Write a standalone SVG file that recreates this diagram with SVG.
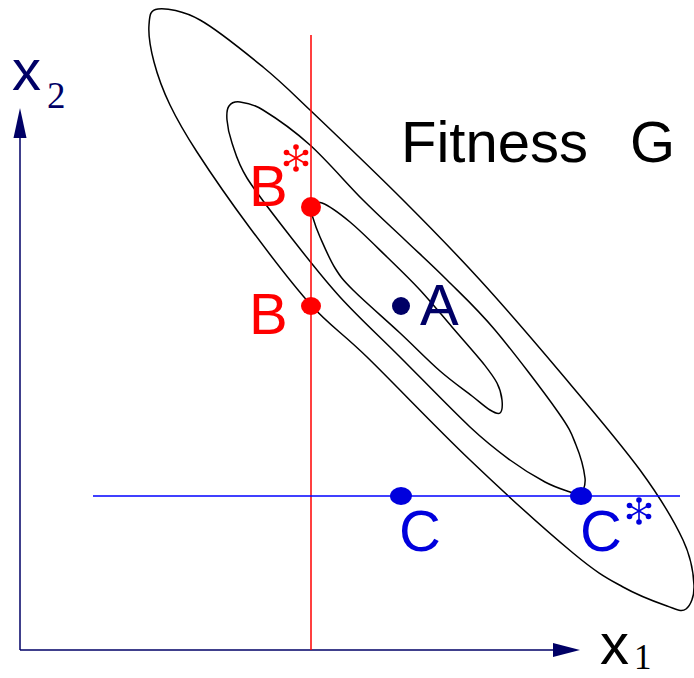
<svg xmlns="http://www.w3.org/2000/svg" xmlns:xlink="http://www.w3.org/1999/xlink" width="694" height="678" viewBox="0 0 694 678">
<style>
.contour{fill:none;stroke:#000;stroke-width:1.5}
.axis{stroke:#000066;stroke-width:1.5;fill:none}
.head{fill:#000066}
.lab{font-family:"Liberation Sans",Arial,sans-serif;font-size:58px}
.sub{font-family:"Liberation Serif","Times New Roman",serif}
.red{fill:#ff0000}
.blue{fill:#0000dd}
.navy{fill:#000066}
</style>
<defs>
<g id="ast" stroke="currentColor" fill="currentColor" stroke-width="1.6">
<line x1="0" y1="-11" x2="0" y2="11"/>
<line x1="-9.5" y1="-5.5" x2="9.5" y2="5.5"/>
<line x1="-9.5" y1="5.5" x2="9.5" y2="-5.5"/>
<circle cx="0" cy="-11" r="2.8" stroke="none"/>
<circle cx="0" cy="11" r="2.8" stroke="none"/>
<circle cx="-9.5" cy="-5.5" r="2.8" stroke="none"/>
<circle cx="9.5" cy="5.5" r="2.8" stroke="none"/>
<circle cx="-9.5" cy="5.5" r="2.8" stroke="none"/>
<circle cx="9.5" cy="-5.5" r="2.8" stroke="none"/>
</g>
</defs>
<rect width="694" height="678" fill="#fff"/>
<g id="contours">
<path id="outer" class="contour" d="M149,25 C149.7,16.2 149.5,9.8 158,9 C166.5,8.2 182.5,10.3 200,20 C217.5,29.7 244.7,52 263,67 C281.3,82 286.7,87.8 310,110 C333.3,132.2 374.7,171.7 403,200 C431.3,228.3 453.8,251.3 480,280 C506.2,308.7 533.3,340.3 560,372 C586.7,403.7 619.5,442 640,470 C660.5,498 674,520.8 683,540 C692,559.2 693.5,573.5 694,585 C694.5,596.5 690.5,605.5 686,609 C681.5,612.5 677.5,609.7 667,606 C656.5,602.3 638.7,595.8 623,587 C607.3,578.2 598.5,574.2 573,553 C547.5,531.8 504.3,492.7 470,460 C435.7,427.3 393.5,382.8 367,357 C340.5,331.2 330.5,326.5 311,305 C291.5,283.5 269,253.5 250,228 C231,202.5 210.3,172.5 197,152 C183.7,131.5 177.2,120 170,105 C162.8,90 157.5,75.3 154,62 C150.5,48.7 148.3,33.8 149,25 Z"/>
<path id="middle" class="contour" d="M582,495 C583,489 586,486.33 585,478 C584,469.67 580.5,456 576,445 C571.5,434 571.5,431.17 558,412 C544.5,392.83 513.5,352 495,330 C476.5,308 462,295 447,280 C432,265 419,253.33 405,240 C391,226.67 378.83,215.83 363,200 C347.17,184.17 326.67,160 310,145 C293.33,130 274.67,117.17 263,110 C251.33,102.83 245.67,102.67 240,102 C234.33,101.33 231.17,103 229,106 C226.83,109 226.5,113.83 227,120 C227.5,126.17 228.67,133.33 232,143 C235.33,152.67 237.33,162.5 247,178 C256.67,193.5 274.5,216.17 290,236 C305.5,255.83 321.67,276.83 340,297 C358.33,317.17 378.33,335.33 400,357 C421.67,378.67 451.67,409.83 470,427 C488.33,444.17 497.5,450.83 510,460 C522.5,469.17 535,476.67 545,482 C555,487.33 563.83,489.83 570,492 C576.17,494.17 578,494.5 582,495"/>
<path id="inner" class="contour" d="M311,207 C312.5,204.5 315.5,200.5 322,203 C328.5,205.5 339.17,213 350,222 C360.83,231 375.33,245.67 387,257 C398.67,268.33 409.17,278.33 420,290 C430.83,301.67 441.5,314.83 452,327 C462.5,339.17 475.5,353.67 483,363 C490.5,372.67 493.83,376.83 497,383 C500.17,389.17 501.5,395 502,400 C502.5,405 502,411.33 500,413 C498,414.67 494.67,412.83 490,410 C485.33,407.17 480.33,402.5 472,396 C463.67,389.5 452,381.5 440,371 C428,360.5 414.5,346.5 400,333 C385.5,319.5 363.83,300.83 353,290 C342.17,279.17 340.5,276.83 335,268 C329.5,259.17 323.67,245.33 320,237 C316.33,228.67 314.5,223 313,218 C311.5,213 309.5,209.5 311,207 Z"/>
</g>
<g id="connectors">
<line id="x2-axis" class="axis" x1="20" y1="650" x2="20" y2="132"/>
<polygon class="head" points="20,108 13.5,138 26.5,138"/>
<line id="x1-axis" class="axis" x1="20" y1="650" x2="556" y2="650"/>
<polygon class="head" points="580,650 553,643 553,657"/>
<line id="line-x1-fixed" x1="311" y1="35" x2="311" y2="650" stroke="#ff0000" stroke-width="1.5"/>
<line id="line-x2-fixed" x1="93" y1="496" x2="680" y2="496" stroke="#0000ff" stroke-width="1.5"/>
</g>
<g id="node-Bstar">
<circle cx="311" cy="207" r="10" class="red"/>
<text class="lab red" x="249" y="206">B</text>
<use xlink:href="#ast" href="#ast" x="296" y="158" style="color:#ff0000"/>
</g>
<g id="node-B">
<ellipse cx="311" cy="306" rx="10" ry="9" class="red"/>
<text class="lab red" x="249" y="334">B</text>
</g>
<g id="node-A">
<circle cx="401" cy="306" r="9" class="navy"/>
<text class="lab navy" x="420" y="325">A</text>
</g>
<g id="node-C">
<ellipse cx="401" cy="496" rx="11" ry="9" class="blue"/>
<text class="lab blue" x="399" y="551">C</text>
</g>
<g id="node-Cstar">
<ellipse cx="581" cy="496" rx="11" ry="9" class="blue"/>
<text class="lab blue" x="580" y="551">C</text>
<use xlink:href="#ast" href="#ast" x="639" y="511" style="color:#0000dd"/>
</g>
<g id="title">
<text class="lab" x="401" y="162" fill="#000">Fitness <tspan x="630">G</tspan></text>
</g>
<g id="axis-labels">
<text class="lab navy" x="12" y="90" font-size="60">x<tspan class="sub" x="47" y="108" font-size="37">2</tspan></text>
<text class="lab" x="600" y="664" font-size="59" fill="#000">x</text>
<text class="sub" x="634" y="669" font-size="35" fill="#000">1</text>
</g>
</svg>
